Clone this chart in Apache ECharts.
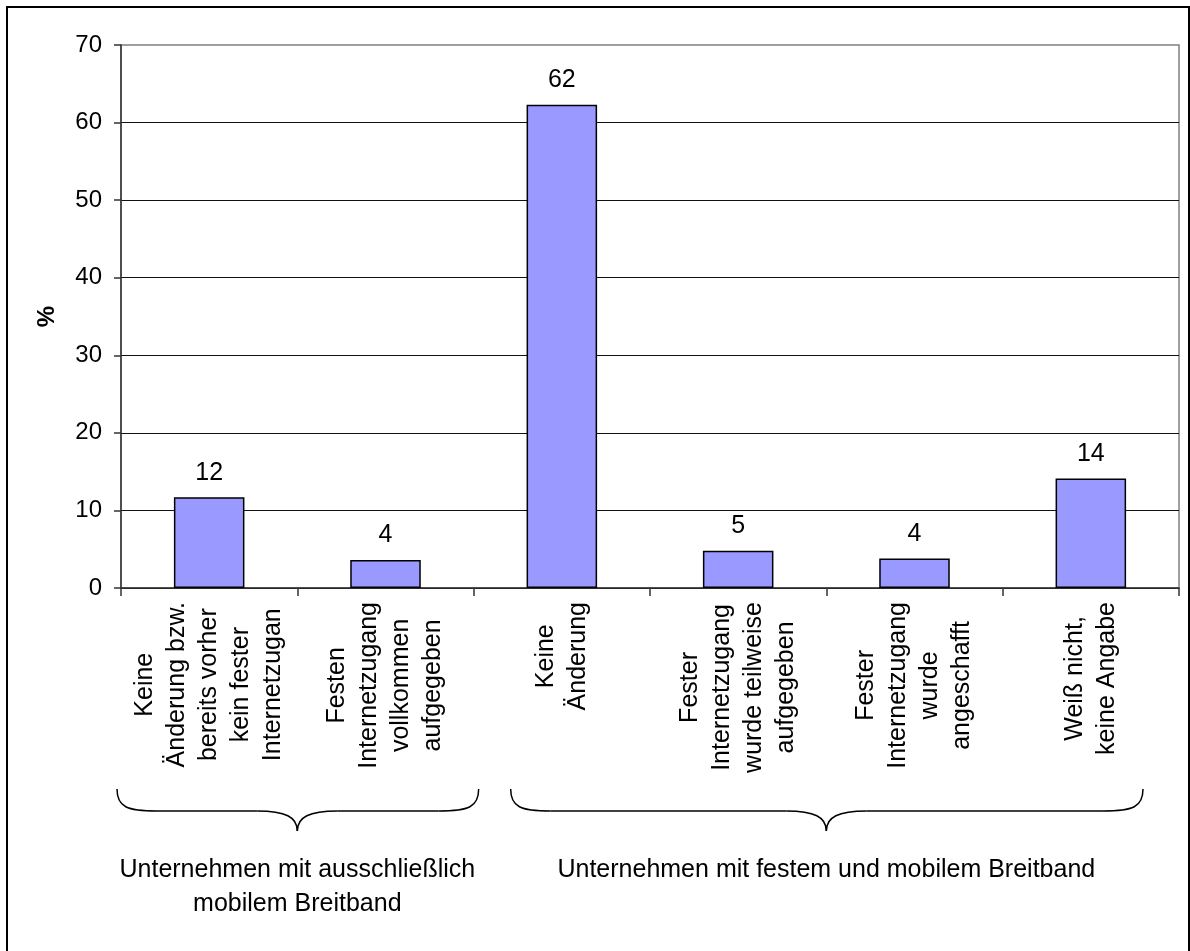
<!DOCTYPE html>
<html><head><meta charset="utf-8">
<script src="https://cdn.jsdelivr.net/npm/echarts@6/dist/echarts.min.js"></script>
<style>html,body{margin:0;padding:0;background:#fff}#c{width:1190px;height:951px}</style>
</head><body><div id="c"></div>
<script>
const categories = [
  "Keine\nÄnderung bzw.\nbereits vorher\nkein fester\nInternetzugan",
  "Festen\nInternetzugang\nvollkommen\naufgegeben",
  "Keine\nÄnderung",
  "Fester\nInternetzugang\nwurde teilweise\naufgegeben",
  "Fester\nInternetzugang\nwurde\nangeschafft",
  "Weiß nicht,\nkeine Angabe"
];
const values = [11.7, 3.6, 62.3, 4.8, 3.8, 14.1];
const yMin = 0, yMax = 70, yInterval = 10;
const yAxisName = "%";
const groupLabels = ["Unternehmen mit ausschließlich\nmobilem Breitband", "Unternehmen mit festem und mobilem Breitband"];
const groupFrom = [0, 2];
const groupTo = [1, 5];

const FONT = "'Liberation Sans', Arial, sans-serif";
const chart = echarts.init(document.getElementById('c'), null, {renderer: 'canvas'});

const option = {
  animation: false,
  backgroundColor: '#fff',
  grid: {left: 121, right: 11, top: 45, bottom: 363, show: true, borderColor: '#808080', borderWidth: 1.5, containLabel: false, outerBoundsMode: 'none'},
  xAxis: {
    type: 'category',
    data: categories,
    axisLine: {lineStyle: {color: '#333', width: 1.5}},
    axisTick: {show: true, length: 8, lineStyle: {color: '#333', width: 1.5}},
    axisLabel: {
      interval: 0, rotate: 90, margin: 14, color: '#000',
      fontFamily: FONT, fontSize: 25, lineHeight: 32,
      hideOverlap: false,
      formatter: v => v.split('\n').map(s => '{c|' + s + '}').join('\n'),
      rich: {c: {align: 'center', fontFamily: FONT, fontSize: 25, lineHeight: 32, color: '#000'}}
    }
  },
  yAxis: {
    type: 'value', min: yMin, max: yMax, interval: yInterval,
    name: yAxisName, nameLocation: 'middle', nameRotate: 90, nameGap: 62,
    nameTextStyle: {fontFamily: FONT, fontSize: 24, fontWeight: 'bold', color: '#000'},
    axisLine: {show: true, lineStyle: {color: '#333', width: 1.5}},
    axisTick: {show: true, length: 7, lineStyle: {color: '#333', width: 1.5}},
    axisLabel: {margin: 19, fontFamily: FONT, fontSize: 24, color: '#000'},
    splitLine: {show: true, showMaxLine: false, lineStyle: {color: '#111', width: 1.2}}
  },
  series: [{
    type: 'bar',
    data: values,
    barWidth: '40%',
    itemStyle: {color: '#9999FF', borderColor: '#000', borderWidth: 1.5},
    label: {show: true, position: 'top', distance: 12, fontFamily: FONT, fontSize: 25, color: '#000',
      formatter: p => String(Math.round(p.value))}
  }]
};
chart.setOption(option);

const LS = {stroke: '#000', lineWidth: 1.5, fill: 'none'};
function braceParts(L, R, T, y0, y1, y2) {
  const parts = [];
  const bz = (x1, y1_, c1x, c1y, c2x, c2y, x2, y2_) => ({
    type: 'bezierCurve', silent: true, style: LS,
    shape: {x1: x1, y1: y1_, cpx1: c1x, cpy1: c1y, cpx2: c2x, cpy2: c2y, x2: x2, y2: y2_}
  });
  const ln = (x1, y1_, x2, y2_) => ({type: 'line', silent: true, style: LS, shape: {x1: x1, y1: y1_, x2: x2, y2: y2_}});
  parts.push(bz(L, y0, L, y1 - 4, L + 10, y1, L + 40, y1));
  parts.push(ln(L + 40, y1, T - 40, y1));
  parts.push(bz(T - 40, y1, T - 12, y1, T, y1 + 6, T, y2));
  parts.push(bz(T, y2, T, y1 + 6, T + 12, y1, T + 40, y1));
  parts.push(ln(T + 40, y1, R - 40, y1));
  parts.push(bz(R - 40, y1, R - 10, y1, R, y1 - 4, R, y0));
  return parts;
}

const c0 = chart.convertToPixel({xAxisIndex: 0}, 0);
const c1 = chart.convertToPixel({xAxisIndex: 0}, 1);
const band = c1 - c0;
const insetsL = [-4, 37];
const insetsR = [5, -36];
const graphics = [{
  type: 'rect', shape: {x: 7, y: 7, width: 1182, height: 1000},
  style: {fill: 'none', stroke: '#000', lineWidth: 2}, silent: true, z: 100
}];
groupLabels.forEach((lab, i) => {
  const left = chart.convertToPixel({xAxisIndex: 0}, groupFrom[i]) - band / 2;
  const right = chart.convertToPixel({xAxisIndex: 0}, groupTo[i]) + band / 2;
  const tip = (left + right) / 2;
  braceParts(left + insetsL[i], right + insetsR[i], tip, 789, 811, 831).forEach(p => graphics.push(p));
  graphics.push({
    type: 'text', x: tip, y: 853, silent: true,
    style: {text: lab, align: 'center', verticalAlign: 'top', fontFamily: FONT, fontSize: 25, lineHeight: 34, fill: '#000'}
  });
});
chart.setOption({graphic: graphics});
</script></body></html>
